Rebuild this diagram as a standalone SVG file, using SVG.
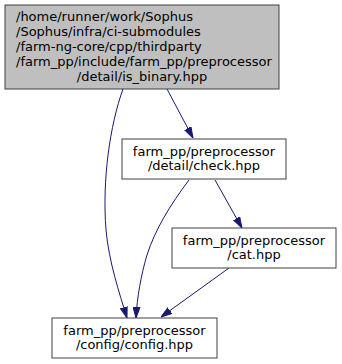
<svg xmlns="http://www.w3.org/2000/svg" width="342" height="364" viewBox="0 0 342 364">
<defs>
  <marker id="arrow" markerWidth="11" markerHeight="8" refX="11" refY="4" orient="auto" markerUnits="userSpaceOnUse">
    <path d="M0,0.5 L11,4 L0,7.5 Z" fill="#191970" stroke="#191970" stroke-width="1"/>
  </marker>
  <style>
    .box { fill: #ffffff; stroke: #404040; stroke-width: 1; }
    .cur { fill: #bfbfbf; stroke: #404040; stroke-width: 1; }
    .lbl { font-family: "DejaVu Sans", sans-serif; font-size: 13px; fill: #000000; }
    .mid { text-anchor: middle; }
    .edge { fill: none; stroke: #191970; stroke-width: 1; marker-end: url(#arrow); }
  </style>
</defs>
<rect width="342" height="364" fill="#ffffff"/>

<!-- include dependency edges -->
<g id="connectors">
  <path class="edge" d="M123,89 C110,125 102,180 106,230 C109,262 119,292 127,318"/>
  <path class="edge" d="M167,89 L193,138"/>
  <path class="edge" d="M189,180 C170,205 155,230 147,255 C141,275 137,298 136,318"/>
  <path class="edge" d="M215,180 L242,228"/>
  <path class="edge" d="M229,268 L161,317"/>
</g>

<g id="node_is_binary">
  <rect class="cur" x="5" y="5" width="274" height="84"/>
  <text class="lbl" x="16" y="21">/home/runner/work/Sophus</text>
  <text class="lbl" x="16" y="36">/Sophus/infra/ci-submodules</text>
  <text class="lbl" x="16" y="51">/farm-ng-core/cpp/thirdparty</text>
  <text class="lbl" x="16" y="66">/farm_pp/include/farm_pp/preprocessor</text>
  <text class="lbl mid" x="142" y="81">/detail/is_binary.hpp</text>
</g>

<g id="node_check">
  <rect class="box" x="122" y="139" width="164" height="40"/>
  <text class="lbl mid" x="204" y="156">farm_pp/preprocessor</text>
  <text class="lbl mid" x="204" y="170">/detail/check.hpp</text>
</g>

<g id="node_cat">
  <rect class="box" x="172" y="228" width="164" height="40"/>
  <text class="lbl mid" x="254" y="245">farm_pp/preprocessor</text>
  <text class="lbl mid" x="254" y="259">/cat.hpp</text>
</g>

<g id="node_config">
  <rect class="box" x="52" y="318" width="165" height="40"/>
  <text class="lbl mid" x="134.5" y="335">farm_pp/preprocessor</text>
  <text class="lbl mid" x="134.5" y="349">/config/config.hpp</text>
</g>
</svg>
